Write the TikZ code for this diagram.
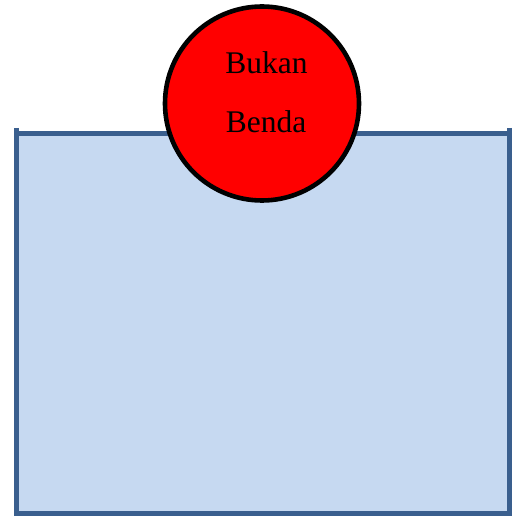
\documentclass[tikz,border=0pt]{standalone}
\usepackage{fontspec}
\setmainfont{Liberation Serif}
\definecolor{boxfill}{HTML}{C6D9F1}
\definecolor{boxline}{HTML}{3A5F8E}
\begin{document}
\begin{tikzpicture}[x=1pt,y=1pt,
  edge/.style={draw=boxline,line width=5pt},
  ball/.style={circle,draw=black,line width=4.6pt,fill=red,minimum size=194pt,inner sep=0pt},
  lbl/.style={font=\fontsize{31.5}{31.5}\selectfont,anchor=base,inner sep=0pt}]
\useasboundingbox (0,0) rectangle (517,515);
% container
\fill[boxfill] (16.5,1) rectangle (509.5,382);
\coordinate (tl) at (14,381.5);
\coordinate (tr) at (512,381.5);
\coordinate (ltop) at (16.5,387);
\coordinate (lbot) at (16.5,0);
\coordinate (rtop) at (509.5,387);
\coordinate (rbot) at (509.5,0);
\coordinate (bl) at (14,1.2);
\coordinate (br) at (512,1.2);
\draw[edge] (ltop) -- (lbot);
\draw[edge] (rtop) -- (rbot);
\draw[edge] (tl) -- (tr);
\draw[edge] (bl) -- (br);
% ball
\node[ball] (c) at (262,411.5) {};
\node[lbl] (t1) at ([xshift=4.5pt,yshift=29.5pt]c.center) {Bukan};
\node[lbl] (t2) at ([xshift=4pt,yshift=-29.5pt]c.center) {Benda};
\end{tikzpicture}
\end{document}
